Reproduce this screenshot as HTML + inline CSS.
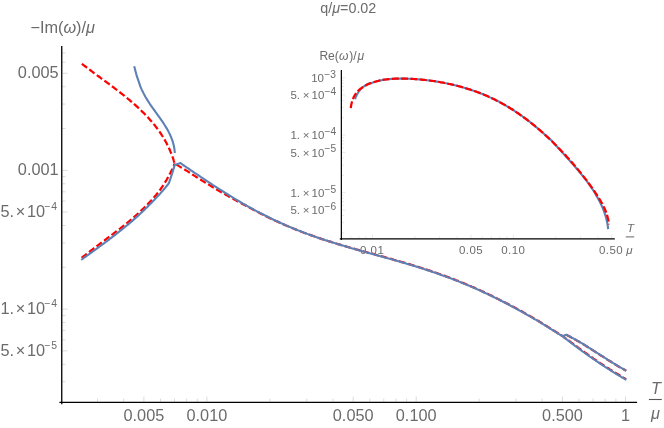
<!DOCTYPE html>
<html><head><meta charset="utf-8"><title>plot</title>
<style>
html,body{margin:0;padding:0;background:#fff;}
body{width:664px;height:428px;overflow:hidden;}
svg{display:block;will-change:transform;}
text{font-family:"Liberation Sans",sans-serif;fill:#6b6b6b;}
.i{font-style:italic;}
</style></head><body>
<svg width="664" height="428" viewBox="0 0 664 428">
<rect width="664" height="428" fill="#fff"/>
<path d="M62.35 73.28h5.2M62.35 170.30h5.2M62.35 212.08h5.2M62.35 309.10h5.2M62.35 350.88h5.2M62.35 381.68h3.1M62.35 364.33h3.1M62.35 339.89h3.1M62.35 330.60h3.1M62.35 322.55h3.1M62.35 315.45h3.1M62.35 267.32h3.1M62.35 242.88h3.1M62.35 225.53h3.1M62.35 201.09h3.1M62.35 191.80h3.1M62.35 183.75h3.1M62.35 176.65h3.1M62.35 128.52h3.1M62.35 104.08h3.1M62.35 86.73h3.1M62.35 62.29h3.1M62.35 53.00h3.1M143.89 401.70v-5.2M206.90 401.70v-5.2M353.19 401.70v-5.2M416.20 401.70v-5.2M562.49 401.70v-5.2M625.50 401.70v-5.2M97.46 401.70v-3.1M123.61 401.70v-3.1M160.47 401.70v-3.1M174.48 401.70v-3.1M186.62 401.70v-3.1M197.32 401.70v-3.1M269.91 401.70v-3.1M306.76 401.70v-3.1M332.91 401.70v-3.1M369.77 401.70v-3.1M383.78 401.70v-3.1M395.92 401.70v-3.1M406.62 401.70v-3.1M479.21 401.70v-3.1M516.06 401.70v-3.1M542.21 401.70v-3.1M579.07 401.70v-3.1M593.08 401.70v-3.1M605.22 401.70v-3.1M615.92 401.70v-3.1" stroke="#c2c2c2" stroke-width="0.6" fill="none"/>
<path d="M341.95 77.60h3.6M341.95 94.91h3.6M341.95 135.10h3.6M341.95 152.41h3.6M341.95 192.60h3.6M341.95 209.91h3.6M341.95 232.79h2.2M341.95 222.67h2.2M341.95 215.48h2.2M341.95 205.36h2.2M341.95 201.51h2.2M341.95 198.17h2.2M341.95 195.23h2.2M341.95 175.29h2.2M341.95 165.17h2.2M341.95 157.98h2.2M341.95 147.86h2.2M341.95 144.01h2.2M341.95 140.67h2.2M341.95 137.73h2.2M341.95 117.79h2.2M341.95 107.67h2.2M341.95 100.48h2.2M341.95 90.36h2.2M341.95 86.51h2.2M341.95 83.17h2.2M341.95 80.23h2.2M372.50 238.30v-3.6M470.91 238.30v-3.6M513.30 238.30v-3.6M611.71 238.30v-3.6M350.69 238.30v-2.2M358.86 238.30v-2.2M366.06 238.30v-2.2M414.89 238.30v-2.2M439.68 238.30v-2.2M457.27 238.30v-2.2M482.06 238.30v-2.2M491.49 238.30v-2.2M499.66 238.30v-2.2M506.86 238.30v-2.2M555.69 238.30v-2.2M580.48 238.30v-2.2M598.07 238.30v-2.2" stroke="#c8c8c8" stroke-width="0.4" fill="none"/>
<text x="372.20" y="254.20" font-size="11.50" text-anchor="middle" letter-spacing="0.45">0.01</text>
<text x="471.11" y="254.20" font-size="11.50" text-anchor="middle" letter-spacing="0.45">0.05</text>
<text x="513.30" y="254.20" font-size="11.50" text-anchor="middle" letter-spacing="0.45">0.10</text>
<text x="611.11" y="254.20" font-size="11.50" text-anchor="middle" letter-spacing="0.45">0.50</text>
<path d="M81.8 63.8L83.0 64.7L84.2 65.6L85.4 66.5L86.6 67.4L87.8 68.3L89.0 69.2L90.2 70.1L91.4 71.0L92.6 72.0L93.8 72.9L95.1 73.8L96.3 74.7L97.5 75.6L98.8 76.5L100.0 77.4L101.2 78.3L102.5 79.2L103.7 80.1L104.9 81.0L106.2 81.9L107.4 82.8L108.6 83.7L109.9 84.7L111.1 85.6L112.3 86.5L113.6 87.4L114.8 88.4L116.0 89.3L117.2 90.2L118.5 91.2L119.7 92.1L120.9 93.1L122.1 94.0L123.3 95.0L124.5 95.9L125.7 96.9L126.9 97.9L128.1 98.9L129.3 99.8L130.4 100.8L131.6 101.8L132.8 102.8L133.9 103.8L135.1 104.9L136.2 105.9L137.3 106.9L138.4 107.9L139.6 109.0L140.7 110.0L141.7 111.1L142.8 112.2L143.9 113.2L145.0 114.3L146.0 115.4L147.1 116.5L148.1 117.6L149.1 118.7L150.1 119.9L151.1 121.0L152.1 122.1L153.1 123.3L154.0 124.5L155.0 125.6L155.9 126.8L156.8 128.0L157.7 129.2L158.6 130.5L159.5 131.7L160.3 132.9L161.2 134.2L162.0 135.5L162.8 136.7L163.6 138.0L164.4 139.3L165.1 140.6L165.9 142.0L166.6 143.3L167.3 144.7L168.0 146.0L168.6 147.4L169.3 148.8L169.9 150.2L170.5 151.7L171.1 153.1L171.7 154.6L172.2 156.0L172.8 157.5L173.3 159.0L173.7 160.5L174.2 162.1L174.6 163.6L176.0 164.3L177.3 165.1L178.6 165.9L179.8 166.6L181.1 167.4L182.4 168.1L183.7 168.9L185.0 169.7L186.4 170.6L187.7 171.4L189.0 172.3L190.3 173.1L191.6 173.9L192.9 174.8L194.2 175.6L195.5 176.4L196.8 177.3L198.1 178.1L199.4 178.9L200.7 179.7L202.1 180.6L203.4 181.4L204.7 182.2L206.0 183.0L207.3 183.8L208.7 184.6L210.0 185.4L211.3 186.2L212.6 187.0L214.0 187.8L215.3 188.6L216.6 189.4L218.0 190.2L219.3 191.0L220.6 191.8L222.0 192.6L223.3 193.3L224.7 194.1L226.0 194.9L227.4 195.6L228.7 196.4L230.1 197.1L231.4 197.9L232.8 198.6L234.2 199.4L235.5 200.1L236.9 200.9L238.2 201.6L239.6 202.4L241.0 203.1L242.4 203.9L243.7 204.6L245.1 205.3L246.5 206.1L247.9 206.8L249.3 207.5L250.7 208.2L252.0 208.9L254.0 210.0L256.0 211.1L258.0 212.1L260.0 213.2L262.0 214.2L264.0 215.2L266.0 216.2L268.0 217.2L270.0 218.2L272.0 219.1L274.0 220.1L276.0 221.0L278.0 221.9L280.0 222.8L282.0 223.7L284.0 224.6L286.0 225.5L288.0 226.3L290.0 227.2L292.0 228.0L294.0 228.8L296.0 229.6L298.0 230.4L300.0 231.2L302.0 232.0L304.0 232.7L306.0 233.5L308.0 234.2L310.0 234.9L312.0 235.6L314.0 236.3L316.0 237.0L318.0 237.7L320.0 238.4L322.0 239.1L324.0 239.7L326.0 240.4L328.0 241.0L330.0 241.6L332.0 242.2L334.0 242.9L336.0 243.5L338.0 244.1L340.0 244.7L342.0 245.3L344.0 245.9L346.0 246.4L348.0 247.0L350.0 247.6L352.0 248.1L354.0 248.7L356.0 249.3L358.0 249.8L360.0 250.4L362.0 250.9L364.0 251.5L366.0 252.0L368.0 252.6L370.0 253.1L372.0 253.7L374.0 254.2L376.0 254.8L378.0 255.3L380.0 255.8L382.0 256.4L384.0 256.9L386.0 257.5L388.0 258.1L390.0 258.6L392.0 259.2L394.0 259.8L396.0 260.3L398.0 260.9L400.0 261.5L402.0 262.1L404.0 262.6L406.0 263.2L408.0 263.8L410.0 264.4L412.0 265.0L414.0 265.6L416.0 266.2L418.0 266.9L420.0 267.5L422.0 268.1L424.0 268.8L426.0 269.4L428.0 270.1L430.0 270.7L432.0 271.4L434.0 272.1L436.0 272.8L438.0 273.5L440.0 274.2L442.0 274.9L444.0 275.6L446.0 276.4L448.0 277.1L450.0 277.8L452.0 278.6L454.0 279.4L456.0 280.2L458.0 280.9L460.0 281.7L462.0 282.6L464.0 283.4L466.0 284.2L468.0 285.0L470.0 285.9L472.0 286.8L474.0 287.6L476.0 288.5L478.0 289.4L480.0 290.3L482.0 291.2L484.0 292.1L486.0 293.1L488.0 294.0L490.0 295.0L492.0 295.9L494.0 296.9L496.0 297.9L498.0 298.9L500.0 299.9L502.0 300.9L504.0 301.9L506.0 303.0L508.0 304.0L510.0 305.1L512.0 306.1L514.0 307.2L516.0 308.3L518.0 309.4L520.0 310.5L522.0 311.6L524.0 312.7L526.0 313.9L528.0 315.0L530.0 316.1L532.0 317.3L534.0 318.5L536.0 319.6L538.0 320.8L540.0 322.0L542.0 323.3L544.0 324.5L546.0 325.7L548.0 326.9L550.0 328.2L552.0 329.4L554.0 330.7L556.0 331.9L558.0 333.2L560.0 334.5L562.0 335.7L563.7 336.9L564.9 337.8L566.1 338.8L567.3 339.6L568.6 340.5L569.8 341.4L571.0 342.3L572.2 343.2L573.5 344.1L574.7 345.0L576.0 345.9L577.2 346.9L578.4 347.8L579.7 348.7L580.9 349.6L582.2 350.5L583.4 351.4L584.7 352.3L586.0 353.2L587.2 354.1L588.5 355.0L589.7 355.9L591.0 356.8L592.3 357.7L593.5 358.6L594.8 359.4L596.1 360.3L597.4 361.2L598.6 362.1L599.9 362.9L601.2 363.8L602.5 364.6L603.8 365.5L605.1 366.3L606.4 367.2L607.7 368.0L609.0 368.8L610.3 369.7L611.6 370.5L612.9 371.3L614.2 372.1L615.6 372.9L616.9 373.7L618.2 374.5L619.5 375.3L620.9 376.1L622.2 376.9L623.5 377.7L624.9 378.5L626.2 379.2" fill="none" stroke="#FF0000" stroke-width="2.25" stroke-dasharray="6.6 2.8" stroke-linejoin="round"/>
<path d="M81.7 257.9L82.8 256.9L84.0 256.0L85.2 255.1L86.3 254.2L87.5 253.2L88.7 252.3L89.9 251.4L91.1 250.5L92.3 249.6L93.5 248.6L94.7 247.7L95.9 246.8L97.1 245.9L98.4 245.0L99.6 244.1L100.8 243.1L102.0 242.2L103.2 241.3L104.5 240.4L105.7 239.5L106.9 238.5L108.1 237.6L109.4 236.7L110.6 235.8L111.8 234.8L113.1 233.9L114.3 233.0L115.5 232.0L116.7 231.1L117.9 230.2L119.2 229.2L120.4 228.3L121.6 227.3L122.8 226.4L124.0 225.4L125.2 224.4L126.4 223.5L127.6 222.5L128.8 221.5L130.0 220.5L131.1 219.6L132.3 218.6L133.5 217.6L134.6 216.6L135.8 215.5L136.9 214.5L138.1 213.5L139.2 212.5L140.3 211.4L141.4 210.4L142.5 209.3L143.6 208.3L144.7 207.2L145.8 206.2L146.9 205.1L147.9 204.0L149.0 202.9L150.0 201.8L151.1 200.7L152.1 199.5L153.1 198.4L154.1 197.3L155.1 196.1L156.1 195.0L157.0 193.8L158.0 192.6L158.9 191.4L159.8 190.2L160.7 189.0L161.6 187.7L162.4 186.5L163.3 185.2L164.1 183.9L164.9 182.6L165.7 181.3L166.5 180.0L167.3 178.6L168.0 177.3L168.8 175.9L169.5 174.5L170.2 173.2L170.9 171.8L171.6 170.4L172.3 169.0L172.9 167.6L173.5 166.2L174.2 164.8L174.7 163.3" fill="none" stroke="#FF0000" stroke-width="2.25" stroke-dasharray="6.6 2.8" stroke-linejoin="round"/>
<path d="M566.4 334.8L567.7 335.5L569.1 336.2L570.5 337.0L571.8 337.7L573.2 338.4L574.5 339.2L575.9 339.9L577.2 340.7L578.6 341.4L579.9 342.2L581.2 343.0L582.6 343.8L583.9 344.6L585.2 345.4L586.5 346.3L587.8 347.1L589.2 347.9L590.5 348.7L591.8 349.6L593.1 350.4L594.4 351.3L595.7 352.1L597.0 352.9L598.3 353.8L599.6 354.6L600.9 355.5L602.3 356.3L603.6 357.1L604.9 358.0L606.2 358.8L607.5 359.7L608.8 360.5L610.1 361.3L611.5 362.1L612.8 363.0L614.1 363.8L615.4 364.6L616.8 365.4L618.1 366.2L619.4 367.0L620.8 367.8L622.1 368.5L623.5 369.3L624.9 370.1L626.2 370.8" fill="none" stroke="#FF0000" stroke-width="2.25" stroke-dasharray="6.6 2.8" stroke-linejoin="round"/>
<path d="M134.2 66.3L136.5 75.1L139.5 83.9L140.0 85.4L140.5 86.8L141.1 88.2L141.7 89.6L142.4 91.0L143.1 92.4L143.8 93.8L144.5 95.1L145.2 96.5L146.0 97.8L146.8 99.1L147.6 100.4L148.4 101.7L149.3 103.0L150.1 104.3L151.0 105.6L151.9 106.8L152.8 108.1L153.7 109.3L154.6 110.6L155.5 111.9L156.4 113.1L157.3 114.4L158.2 115.6L159.1 116.9L160.0 118.1L160.9 119.4L161.7 120.7L162.6 121.9L163.5 123.2L164.3 124.5L165.1 125.8L165.9 127.1L166.7 128.4L167.5 129.7L168.2 131.0L168.9 132.4L169.6 133.7L170.2 135.1L170.8 136.5L171.4 137.9L171.9 139.3L172.4 140.7L172.9 142.2L173.3 143.7L173.7 145.2L174.0 146.7L174.3 148.2L174.5 149.8L174.7 151.4L174.8 153.0" fill="none" stroke="#5E81B5" stroke-width="2.10" stroke-linejoin="round"/>
<path d="M81.2 259.8L82.4 259.0L83.6 258.1L84.9 257.2L86.1 256.3L87.3 255.4L88.6 254.6L89.8 253.7L91.0 252.8L92.3 251.9L93.5 251.0L94.7 250.1L96.0 249.2L97.2 248.3L98.4 247.4L99.6 246.5L100.9 245.6L102.1 244.7L103.3 243.8L104.5 242.9L105.8 242.0L107.0 241.1L108.2 240.2L109.4 239.3L110.6 238.3L111.8 237.4L113.0 236.5L114.2 235.6L115.4 234.6L116.6 233.7L117.8 232.7L119.0 231.8L120.2 230.8L121.4 229.9L122.6 228.9L123.8 228.0L125.0 227.0L126.1 226.0L127.3 225.1L128.5 224.1L129.6 223.1L130.8 222.1L132.0 221.1L133.1 220.1L134.2 219.1L135.4 218.1L136.5 217.1L137.7 216.1L138.8 215.1L139.9 214.0L141.0 213.0L142.1 212.0L143.2 210.9L144.3 209.9L145.4 208.8L146.5 207.8L147.6 206.7L148.7 205.6L149.7 204.6L150.8 203.5L151.9 202.4L152.9 201.3L154.0 200.2L155.0 199.1L156.1 198.0L157.1 196.9L158.1 195.8L159.2 194.7L160.2 193.6L161.2 192.4L162.2 191.3L163.2 190.2L164.2 189.0L165.2 187.9L166.1 186.7L167.1 185.5L168.0 184.3L168.9 183.1L172.2 173.3L174.7 165.1L180.6 163.0L182.6 164.7L184.6 166.0L186.6 167.4L188.6 168.7L190.6 170.1L192.6 171.4L194.6 172.8L196.6 174.1L198.6 175.4L200.6 176.8L202.6 178.1L204.6 179.5L206.6 180.8L208.6 182.1L210.6 183.4L212.6 184.8L214.6 186.1L216.6 187.4L218.6 188.7L220.6 189.9L222.6 191.2L224.6 192.5L226.6 193.7L228.6 195.0L230.6 196.2L232.6 197.4L234.6 198.6L236.6 199.8L238.6 201.0L240.6 202.2L242.6 203.4L244.6 204.5L246.6 205.7L248.6 206.8L250.6 207.9L252.6 209.0L254.6 210.1L256.6 211.2L258.6 212.2L260.6 213.3L262.6 214.3L264.6 215.3L266.6 216.3L268.6 217.3L270.6 218.3L272.6 219.2L274.6 220.2L276.6 221.1L278.6 222.0L280.6 223.0L282.6 223.8L284.6 224.7L286.6 225.6L288.6 226.5L290.6 227.3L292.6 228.1L294.6 229.0L296.6 229.8L298.6 230.6L300.6 231.3L302.6 232.1L304.6 232.9L306.6 233.6L308.6 234.4L310.6 235.1L312.6 235.8L314.6 236.5L316.6 237.2L318.6 237.9L320.6 238.6L322.6 239.2L324.6 239.9L326.6 240.6L328.6 241.2L330.6 241.8L332.6 242.5L334.6 243.1L336.6 243.7L338.6 244.3L340.6 244.9L342.6 245.5L344.6 246.1L346.6 246.7L348.6 247.3L350.6 247.9L352.6 248.4L354.6 249.0L356.6 249.6L358.6 250.2L360.6 250.7L362.6 251.3L364.6 251.8L366.6 252.4L368.6 252.9L370.6 253.5L372.6 254.0L374.6 254.6L376.6 255.1L378.6 255.7L380.6 256.3L382.6 256.8L384.6 257.4L386.6 257.9L388.6 258.5L390.6 259.0L392.6 259.6L394.6 260.2L396.6 260.7L398.6 261.3L400.6 261.9L402.6 262.5L404.6 263.1L406.6 263.7L408.6 264.2L410.6 264.8L412.6 265.5L414.6 266.1L416.6 266.7L418.6 267.3L420.6 267.9L422.6 268.6L424.6 269.2L426.6 269.9L428.6 270.5L430.6 271.2L432.6 271.9L434.6 272.6L436.6 273.2L438.6 273.9L440.6 274.7L442.6 275.4L444.6 276.1L446.6 276.8L448.6 277.6L450.6 278.3L452.6 279.1L454.6 279.9L456.6 280.6L458.6 281.4L460.6 282.2L462.6 283.1L464.6 283.9L466.6 284.7L468.6 285.5L470.6 286.4L472.6 287.3L474.6 288.1L476.6 289.0L478.6 289.9L480.6 290.8L482.6 291.7L484.6 292.7L486.6 293.6L488.6 294.6L490.6 295.5L492.6 296.5L494.6 297.5L496.6 298.4L498.6 299.4L500.6 300.5L502.6 301.5L504.6 302.5L506.6 303.5L508.6 304.6L510.6 305.7L512.6 306.7L514.6 307.8L516.6 308.9L518.6 310.0L520.6 311.1L522.6 312.2L524.6 313.3L526.6 314.5L528.6 315.6L530.6 316.7L532.6 317.9L534.6 319.1L536.6 320.2L538.6 321.4L540.6 322.7L542.6 323.9L544.6 325.1L546.6 326.3L548.6 327.6L550.6 328.8L552.6 330.1L554.6 331.3L556.6 332.6L558.6 333.8L560.6 335.1L562.4 336.2L563.7 337.1L564.9 338.1L566.1 339.0L567.3 339.9L568.6 340.9L569.8 341.8L571.0 342.8L572.2 343.7L573.5 344.6L574.7 345.6L576.0 346.5L577.2 347.4L578.4 348.3L579.7 349.2L580.9 350.2L582.2 351.1L583.4 352.0L584.7 352.9L586.0 353.8L587.2 354.7L588.5 355.6L589.7 356.5L591.0 357.4L592.3 358.2L593.5 359.1L594.8 360.0L596.1 360.9L597.4 361.7L598.6 362.6L599.9 363.5L601.2 364.3L602.5 365.2L603.8 366.0L605.1 366.9L606.4 367.7L607.7 368.5L609.0 369.4L610.3 370.2L611.6 371.0L612.9 371.8L614.2 372.7L615.6 373.5L616.9 374.3L618.2 375.1L619.5 375.9L620.9 376.7L622.2 377.5L623.5 378.2L624.9 379.0L626.2 379.8" fill="none" stroke="#5E81B5" stroke-width="2.10" stroke-linejoin="round"/>
<path d="M562.4 336.2L566.4 334.7L567.7 335.4L569.1 336.1L570.5 336.9L571.8 337.6L573.2 338.3L574.5 339.1L575.9 339.8L577.2 340.6L578.6 341.3L579.9 342.1L581.2 342.9L582.6 343.7L583.9 344.5L585.2 345.3L586.5 346.2L587.8 347.0L589.2 347.8L590.5 348.6L591.8 349.5L593.1 350.3L594.4 351.2L595.7 352.0L597.0 352.8L598.3 353.7L599.6 354.5L600.9 355.4L602.3 356.2L603.6 357.0L604.9 357.9L606.2 358.7L607.5 359.6L608.8 360.4L610.1 361.2L611.5 362.0L612.8 362.9L614.1 363.7L615.4 364.5L616.8 365.3L618.1 366.1L619.4 366.9L620.8 367.7L622.1 368.4L623.5 369.2L624.9 370.0L626.2 370.7" fill="none" stroke="#5E81B5" stroke-width="2.10" stroke-linejoin="round"/>
<path d="M355.1 99.3L355.7 97.3L356.6 95.3L357.6 93.5L358.7 91.7L360.0 90.1L361.4 88.5L363.0 87.1L364.7 85.8L366.5 84.7L368.3 83.7L370.3 82.9L370.5 83.3L371.7 82.9L373.0 82.4L374.2 82.0L375.4 81.7L376.6 81.3L377.9 81.0L379.1 80.7L380.4 80.4L381.6 80.2L382.9 79.9L384.1 79.7L385.4 79.5L386.7 79.4L387.9 79.2L389.2 79.1L390.5 79.0L391.8 78.9L393.1 78.8L394.4 78.7L395.6 78.7L396.9 78.6L398.2 78.6L399.5 78.6L400.8 78.6L402.1 78.6L403.4 78.6L404.7 78.6L406.0 78.7L407.3 78.7L408.6 78.7L409.9 78.8L411.2 78.9L412.5 78.9L413.8 79.0L415.1 79.1L416.4 79.2L417.7 79.3L419.0 79.4L420.3 79.5L421.6 79.6L422.9 79.8L424.2 79.9L425.4 80.0L426.7 80.2L428.0 80.3L429.3 80.5L430.6 80.7L431.9 80.8L433.2 81.0L434.5 81.2L435.8 81.4L437.0 81.6L438.3 81.8L439.6 82.0L440.9 82.3L442.2 82.5L443.4 82.7L444.7 83.0L446.0 83.2L447.3 83.5L448.5 83.8L449.8 84.0L451.1 84.3L452.3 84.6L453.6 84.9L454.8 85.2L456.1 85.5L457.4 85.8L458.6 86.2L459.9 86.5L461.1 86.8L462.3 87.2L463.6 87.5L464.8 87.9L466.1 88.3L467.3 88.7L468.5 89.1L469.8 89.4L471.0 89.9L472.2 90.3L473.4 90.7L474.6 91.1L475.9 91.5L477.1 92.0L478.3 92.4L479.5 92.9L480.7 93.4L481.9 93.8L483.1 94.3L484.2 94.8L485.4 95.3L486.6 95.8L487.8 96.3L489.0 96.9L490.1 97.4L491.3 97.9L492.5 98.5L493.6 99.0L494.8 99.6L495.9 100.2L497.1 100.8L498.2 101.3L499.4 101.9L500.5 102.6L501.6 103.2L502.7 103.8L503.9 104.4L505.0 105.1L506.1 105.7L507.2 106.4L508.3 107.0L509.4 107.7L510.5 108.4L511.6 109.0L512.7 109.7L513.8 110.4L514.8 111.1L515.9 111.8L517.0 112.6L518.1 113.3L519.1 114.0L520.2 114.8L521.2 115.5L522.3 116.2L523.3 117.0L524.4 117.8L525.4 118.5L526.5 119.3L527.5 120.1L528.5 120.9L529.5 121.7L530.6 122.5L531.6 123.3L532.6 124.1L533.6 124.9L534.6 125.7L535.6 126.6L536.6 127.4L537.6 128.2L538.6 129.1L539.6 129.9L540.5 130.8L541.5 131.6L542.5 132.5L543.5 133.3L544.4 134.2L545.4 135.1L546.3 136.0L547.3 136.9L548.2 137.7L549.2 138.6L550.1 139.5L550.7 139.6L551.9 141.0L553.1 142.3L554.3 143.6L555.5 145.0L556.7 146.3L557.9 147.7L559.2 149.0L560.4 150.4L561.6 151.7L562.8 153.1L564.1 154.4L565.3 155.8L566.5 157.2L567.8 158.5L569.0 159.9L570.2 161.3L571.5 162.7L572.7 164.0L573.9 165.4L575.1 166.8L576.3 168.2L577.5 169.6L578.7 171.1L579.9 172.5L581.1 173.9L582.2 175.4L583.4 176.8L584.5 178.3L585.6 179.7L586.8 181.2L587.8 182.7L588.9 184.2L590.0 185.7L591.0 187.2L592.1 188.7L593.1 190.2L594.1 191.8L595.0 193.3L596.0 194.9L596.9 196.5L597.8 198.1L598.7 199.7L599.5 201.3L600.3 202.9L601.1 204.5L601.9 206.2L602.6 207.9L603.3 209.5L603.9 211.2L604.6 213.0L605.1 214.7L605.7 216.4L606.2 218.2L606.6 220.0L607.0 221.8L607.4 223.6L607.7 225.4L607.9 227.2L608.1 229.1" fill="none" stroke="#5E81B5" stroke-width="2.10" stroke-linejoin="round"/>
<path d="M350.8 108.2L350.9 106.9L351.1 105.6L351.4 104.3L351.7 103.0L352.0 101.7L352.4 100.4L352.9 99.2L353.4 97.9L353.9 96.7L354.6 95.6L355.2 94.5L355.9 93.4L356.7 92.4L357.5 91.4L358.4 90.5L359.4 89.6L360.3 88.8L361.4 88.1L362.4 87.3L363.5 86.7L364.6 86.0L365.8 85.4L366.9 84.8L368.1 84.3L369.3 83.8L370.5 83.3L371.7 82.9L373.0 82.4L374.2 82.0L375.4 81.7L376.6 81.3L377.9 81.0L379.1 80.7L380.4 80.4L381.6 80.2L382.9 79.9L384.1 79.7L385.4 79.5L386.7 79.4L387.9 79.2L389.2 79.1L390.5 79.0L391.8 78.9L393.1 78.8L394.4 78.7L395.6 78.7L396.9 78.6L398.2 78.6L399.5 78.6L400.8 78.6L402.1 78.6L403.4 78.6L404.7 78.6L406.0 78.7L407.3 78.7L408.6 78.7L409.9 78.8L411.2 78.9L412.5 78.9L413.8 79.0L415.1 79.1L416.4 79.2L417.7 79.3L419.0 79.4L420.3 79.5L421.6 79.6L422.9 79.8L424.2 79.9L425.4 80.0L426.7 80.2L428.0 80.3L429.3 80.5L430.6 80.7L431.9 80.8L433.2 81.0L434.5 81.2L435.8 81.4L437.0 81.6L438.3 81.8L439.6 82.0L440.9 82.3L442.2 82.5L443.4 82.7L444.7 83.0L446.0 83.2L447.3 83.5L448.5 83.8L449.8 84.0L451.1 84.3L452.3 84.6L453.6 84.9L454.8 85.2L456.1 85.5L457.4 85.8L458.6 86.2L459.9 86.5L461.1 86.8L462.3 87.2L463.6 87.5L464.8 87.9L466.1 88.3L467.3 88.7L468.5 89.1L469.8 89.4L471.0 89.9L472.2 90.3L473.4 90.7L474.6 91.1L475.9 91.5L477.1 92.0L478.3 92.4L479.5 92.9L480.7 93.4L481.9 93.8L483.1 94.3L484.2 94.8L485.4 95.3L486.6 95.8L487.8 96.3L489.0 96.9L490.1 97.4L491.3 97.9L492.5 98.5L493.6 99.0L494.8 99.6L495.9 100.2L497.1 100.8L498.2 101.3L499.4 101.9L500.5 102.6L501.6 103.2L502.7 103.8L503.9 104.4L505.0 105.1L506.1 105.7L507.2 106.4L508.3 107.0L509.4 107.7L510.5 108.4L511.6 109.0L512.7 109.7L513.8 110.4L514.8 111.1L515.9 111.8L517.0 112.6L518.1 113.3L519.1 114.0L520.2 114.8L521.2 115.5L522.3 116.2L523.3 117.0L524.4 117.8L525.4 118.5L526.5 119.3L527.5 120.1L528.5 120.9L529.5 121.7L530.6 122.5L531.6 123.3L532.6 124.1L533.6 124.9L534.6 125.7L535.6 126.6L536.6 127.4L537.6 128.2L538.6 129.1L539.6 129.9L540.5 130.8L541.5 131.6L542.5 132.5L543.5 133.3L544.4 134.2L545.4 135.1L546.3 136.0L547.3 136.9L548.2 137.7L549.2 138.6L550.1 139.5L551.1 140.4L552.0 141.3L552.9 142.2L553.9 143.2L554.8 144.1L555.7 145.0L556.6 145.9L557.5 146.8L558.4 147.8L559.3 148.7L560.2 149.6L561.1 150.6L562.0 151.5L562.9 152.5L563.8 153.4L564.7 154.4L565.6 155.3L566.4 156.3L567.3 157.2L568.2 158.2L569.0 159.1L569.9 160.1L570.8 161.1L571.6 162.0L572.5 163.0L573.3 164.0L574.1 165.0L575.0 165.9L575.8 166.9L576.6 167.9L577.5 168.9L578.3 169.9L579.1 170.9L579.9 171.9L580.7 172.9L581.5 173.9L582.3 174.9L583.1 175.9L583.9 176.9L584.7 177.9L585.5 178.9L586.3 179.9L587.1 181.0L587.8 182.0L588.6 183.0L589.4 184.1L590.1 185.1L590.9 186.2L591.6 187.2L592.4 188.3L593.1 189.3L593.8 190.4L594.6 191.4L595.3 192.5L596.0 193.6L596.7 194.7L597.4 195.8L598.1 196.8L598.8 197.9L599.5 199.0L600.2 200.2L600.8 201.3L601.4 202.4L602.1 203.5L602.7 204.7L603.3 205.8L603.8 207.0L604.4 208.1L604.9 209.3L605.4 210.5L605.9 211.7L606.3 212.9L606.8 214.1L607.1 215.4L607.5 216.6L607.8 217.9L608.1 219.1L608.4 220.4L608.6 221.7L608.8 223.0L608.9 224.4" fill="none" stroke="#FF0000" stroke-width="2.25" stroke-dasharray="6.9 2.4" stroke-linejoin="round"/>
<path d="M61.75 46.1V404.2M59.4 402.30H637.1" stroke="#000" stroke-width="1.3" fill="none"/>
<path d="M341.35 69.9V240M339.8 238.90H614.8" stroke="#000" stroke-width="1.2" fill="none"/>
<text x="320.30" y="13.00" font-size="14.30">q/<tspan class="i">μ</tspan>=0.02</text>
<text x="30.40" y="33.10" font-size="16.30">−Im(<tspan class="i">ω</tspan>)/<tspan class="i">μ</tspan></text>
<text x="319.40" y="59.50" font-size="12.10">Re(<tspan class="i">ω</tspan><tspan dx="0.9">)/</tspan><tspan class="i" dx="0.9">μ</tspan></text>
<text x="58.60" y="78.38" font-size="16.30" text-anchor="end">0.005</text>
<text x="58.60" y="174.80" font-size="16.30" text-anchor="end">0.001</text>
<text x="57.0" y="216.98" font-size="16.30" text-anchor="end">5.<tspan dx="1.8">×</tspan><tspan dx="1.6">10</tspan><tspan font-size="10.40" dy="-6.9" dx="-1 1.1">−4</tspan></text>
<text x="57.0" y="314.00" font-size="16.30" text-anchor="end">1.<tspan dx="1.8">×</tspan><tspan dx="1.6">10</tspan><tspan font-size="10.40" dy="-6.9" dx="-1 1.1">−4</tspan></text>
<text x="57.0" y="355.78" font-size="16.30" text-anchor="end">5.<tspan dx="1.8">×</tspan><tspan dx="1.6">10</tspan><tspan font-size="10.40" dy="-6.9" dx="-1 1.1">−5</tspan></text>
<text x="143.89" y="421.20" font-size="16.30" text-anchor="middle">0.005</text>
<text x="206.90" y="421.20" font-size="16.30" text-anchor="middle">0.010</text>
<text x="353.19" y="421.20" font-size="16.30" text-anchor="middle">0.050</text>
<text x="416.20" y="421.20" font-size="16.30" text-anchor="middle">0.100</text>
<text x="562.49" y="421.20" font-size="16.30" text-anchor="middle">0.500</text>
<text x="625.50" y="421.20" font-size="16.30" text-anchor="middle">1</text>
<text x="651.00" y="394.40" font-size="16.30" class="i">T</text>
<path d="M648.9 399.5H661.8" stroke="#555" stroke-width="1.1" fill="none"/>
<text x="651.00" y="418.90" font-size="16.30" class="i">μ</text>
<text x="311.2" y="81.8" font-size="11.50">10<tspan font-size="10.20" dy="-4.1" dx="0.2">−3</tspan></text>
<text x="290.4" y="99.01" font-size="11.50">5.<tspan dx="2.8">×</tspan><tspan dx="2.1">10</tspan><tspan font-size="10.20" dy="-4.1" dx="0.2">−4</tspan></text>
<text x="290.4" y="139.20" font-size="11.50">1.<tspan dx="2.8">×</tspan><tspan dx="2.1">10</tspan><tspan font-size="10.20" dy="-4.1" dx="0.2">−4</tspan></text>
<text x="290.4" y="156.51" font-size="11.50">5.<tspan dx="2.8">×</tspan><tspan dx="2.1">10</tspan><tspan font-size="10.20" dy="-4.1" dx="0.2">−5</tspan></text>
<text x="290.4" y="196.70" font-size="11.50">1.<tspan dx="2.8">×</tspan><tspan dx="2.1">10</tspan><tspan font-size="10.20" dy="-4.1" dx="0.2">−5</tspan></text>
<text x="290.4" y="214.01" font-size="11.50">5.<tspan dx="2.8">×</tspan><tspan dx="2.1">10</tspan><tspan font-size="10.20" dy="-4.1" dx="0.2">−6</tspan></text>
<text x="627.00" y="232.20" font-size="11.50" class="i">T</text>
<path d="M625.8 236.9H634.2" stroke="#555" stroke-width="0.9" fill="none"/>
<text x="626.20" y="253.50" font-size="11.50" class="i">μ</text>
</svg>
</body></html>
